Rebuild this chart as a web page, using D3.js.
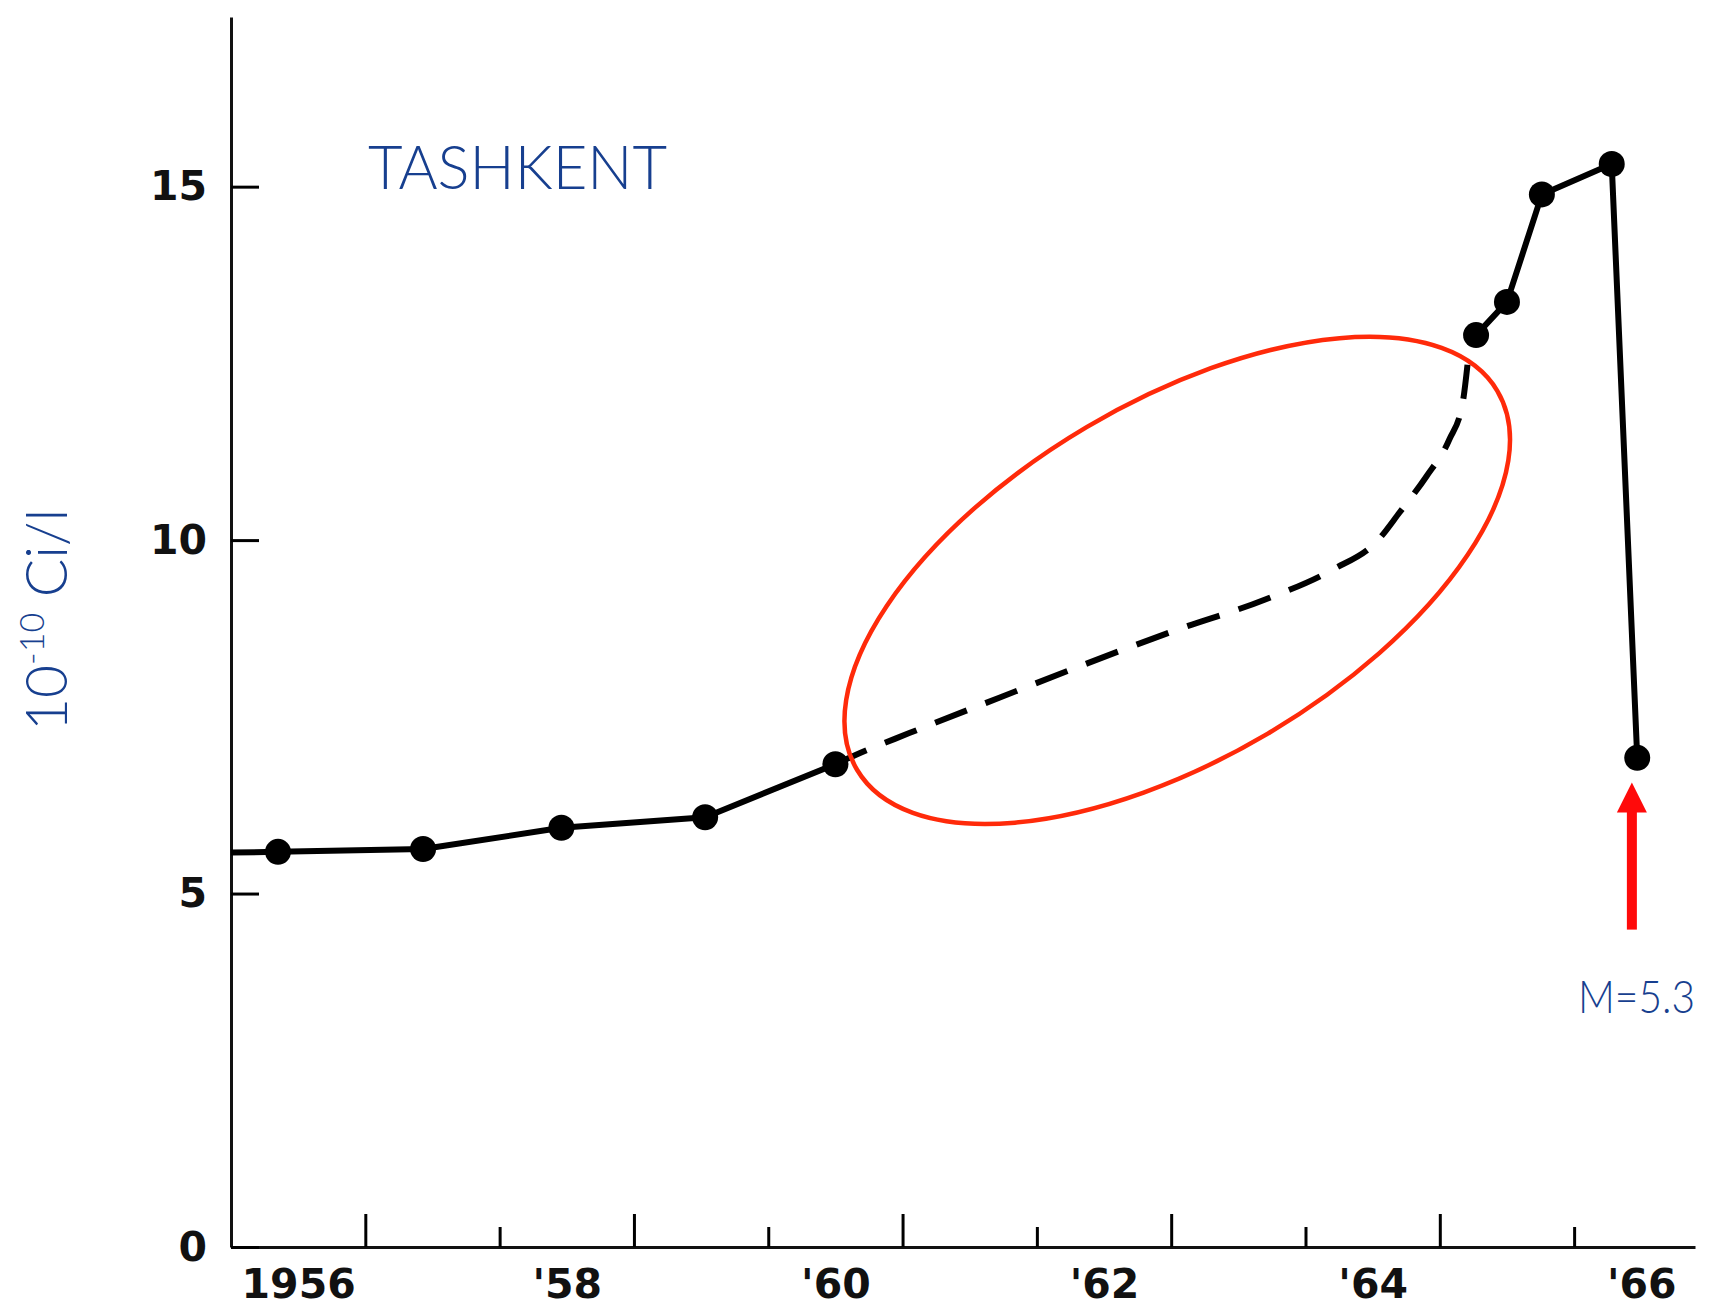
<!DOCTYPE html>
<html>
<head>
<meta charset="utf-8">
<script src="https://cdn.jsdelivr.net/npm/d3@7"></script>
<style>
  body { margin: 0; background: #fff; }
  svg { display: block; }
</style>
</head>
<body>
<div id="chart"></div>
<script>
// measured points (year, 10^-10 Ci/l)
const pointYears  = [1956.35, 1957.43, 1958.46, 1959.53, 1960.50, 1965.27, 1965.50, 1965.76, 1966.28, 1966.47];
const pointValues = [5.59, 5.63, 5.93, 6.08, 6.83, 12.90, 13.37, 14.89, 15.32, 6.92];

// solid line starts at the axis
const startYear = 1956.0, startValue = 5.58;

// dashed (interpolated by hand in the original) stretch 1960-65
const gapYears  = [1960.50, 1960.65, 1961.05, 1961.72, 1962.38, 1963.04, 1963.70, 1964.20, 1964.54, 1964.70, 1964.90, 1965.07, 1965.17, 1965.21];
const gapValues = [6.83, 6.96, 7.27, 7.77, 8.26, 8.73, 9.16, 9.58, 10.00, 10.39, 10.90, 11.42, 11.94, 12.55];

const yTicks = [0, 5, 10, 15];
const xLabelYears = [1956, 1958, 1960, 1962, 1964, 1966];
const xLabels = ["1956", "'58", "'60", "'62", "'64", "'66"];

const width = 1709, height = 1310;
const blue = "#173f8f";

const svg = d3.select("#chart")
  .append("svg")
  .attr("width", width)
  .attr("height", height);

const x = d3.scaleLinear()
  .domain([1956, 1966.9])
  .range([231, 1695]);

const y = d3.scaleLinear()
  .domain([0, 17.4])
  .range([1247, 17]);

// x axis: year boundaries, odd years long, even years short
const yearTicks = d3.range(1957, 1967);
svg.append("g")
  .attr("transform", `translate(0,${y(0)})`)
  .call(d3.axisBottom(x).tickValues(yearTicks.filter(d => d % 2 === 1))
    .tickSizeInner(-33).tickSizeOuter(0).tickFormat(""))
  .call(g => g.selectAll(".tick line").attr("stroke-width", 3));

svg.append("g")
  .attr("transform", `translate(0,${y(0)})`)
  .call(d3.axisBottom(x).tickValues(yearTicks.filter(d => d % 2 === 0))
    .tickSizeInner(-20).tickSizeOuter(0).tickFormat(""))
  .call(g => g.select(".domain").remove())
  .call(g => g.selectAll(".tick line").attr("stroke-width", 3));

// labels sit in the middle of each year
svg.append("g")
  .attr("transform", `translate(0,${y(0)})`)
  .call(d3.axisBottom(x).tickValues(xLabelYears.map(d => d + 0.5))
    .tickSize(0).tickPadding(22)
    .tickFormat((d, i) => xLabels[i]))
  .call(g => g.select(".domain").remove())
  .call(g => g.selectAll("text")
    .attr("font-family", "DejaVu Sans")
    .attr("font-weight", "bold")
    .attr("font-size", 41)
    .attr("fill", "#111"));

svg.selectAll("g .domain").attr("stroke-width", 3).attr("stroke", "#111");

// y axis
svg.append("g")
  .attr("transform", `translate(${x(1956)},0)`)
  .call(d3.axisLeft(y).tickValues(yTicks)
    .tickSizeInner(-28).tickSizeOuter(0).tickPadding(24))
  .call(g => g.select(".domain").attr("stroke-width", 3).attr("stroke", "#111"))
  .call(g => g.selectAll(".tick line").attr("stroke-width", 3))
  .call(g => g.selectAll("text")
    .attr("font-family", "DejaVu Sans")
    .attr("font-weight", "bold")
    .attr("font-size", 41)
    .attr("fill", "#111"));

// lines
const line = d3.line()
  .x(d => x(d[0]))
  .y(d => y(d[1]));

const solidA = [[startYear, startValue]].concat(pointYears.slice(0, 5).map((d, i) => [d, pointValues[i]]));
const solidB = pointYears.slice(5).map((d, i) => [d, pointValues[i + 5]]);
const dashed = gapYears.map((d, i) => [d, gapValues[i]]);

[solidA, solidB].forEach(seg => {
  svg.append("path")
    .datum(seg)
    .attr("fill", "none")
    .attr("stroke", "#000")
    .attr("stroke-width", 6)
    .attr("stroke-linejoin", "round")
    .attr("d", line);
});

svg.append("path")
  .datum(dashed)
  .attr("fill", "none")
  .attr("stroke", "#000")
  .attr("stroke-width", 6)
  .attr("stroke-dasharray", "34 20")
  .attr("d", line.curve(d3.curveMonotoneX));

svg.selectAll(".dot")
  .data(pointYears)
  .enter()
  .append("circle")
  .attr("cx", d => x(d))
  .attr("cy", (d, i) => y(pointValues[i]))
  .attr("r", 13)
  .attr("fill", "#000");

// red ellipse around the dashed stretch
svg.append("ellipse")
  .attr("transform", `translate(${x(1963.045)},${y(9.43)}) rotate(-30.6)`)
  .attr("rx", 372)
  .attr("ry", 178)
  .attr("fill", "none")
  .attr("stroke", "#ff2a0a")
  .attr("stroke-width", 4.5);

// red arrow to the last point
const ax = x(1966.43), aTop = y(6.57), aBot = y(4.49);
svg.append("rect")
  .attr("x", ax - 5)
  .attr("y", aTop + 28)
  .attr("width", 10)
  .attr("height", aBot - aTop - 28)
  .attr("fill", "#ff0a0a");
svg.append("path")
  .attr("d", `M${ax},${aTop} L${ax + 15},${aTop + 30} L${ax - 15},${aTop + 30} Z`)
  .attr("fill", "#ff0a0a");

svg.append("text")
  .attr("x", 1578)
  .attr("y", 1013)
  .attr("font-family", "Lato")
  .attr("font-weight", 300)
  .attr("font-size", 45)
  .attr("fill", blue)
  .attr("textLength", 117)
  .attr("lengthAdjust", "spacingAndGlyphs")
  .text("M=5.3");

svg.append("text")
  .attr("x", 368)
  .attr("y", 189)
  .attr("font-family", "Lato")
  .attr("font-weight", 300)
  .attr("font-size", 61)
  .attr("fill", blue)
  .attr("textLength", 299)
  .attr("lengthAdjust", "spacingAndGlyphs")
  .text("TASHKENT");

// y axis title, rotated
const yTitle = svg.append("text")
  .attr("transform", "translate(67,731) rotate(-90)")
  .attr("font-family", "Lato")
  .attr("font-weight", 300)
  .attr("font-size", 57)
  .attr("fill", blue);
yTitle.append("tspan").text("10");
yTitle.append("tspan").attr("font-size", 34).attr("dy", -23).text("-10");
yTitle.append("tspan").attr("dy", 23).text(" Ci/l");
</script>
</body>
</html>
